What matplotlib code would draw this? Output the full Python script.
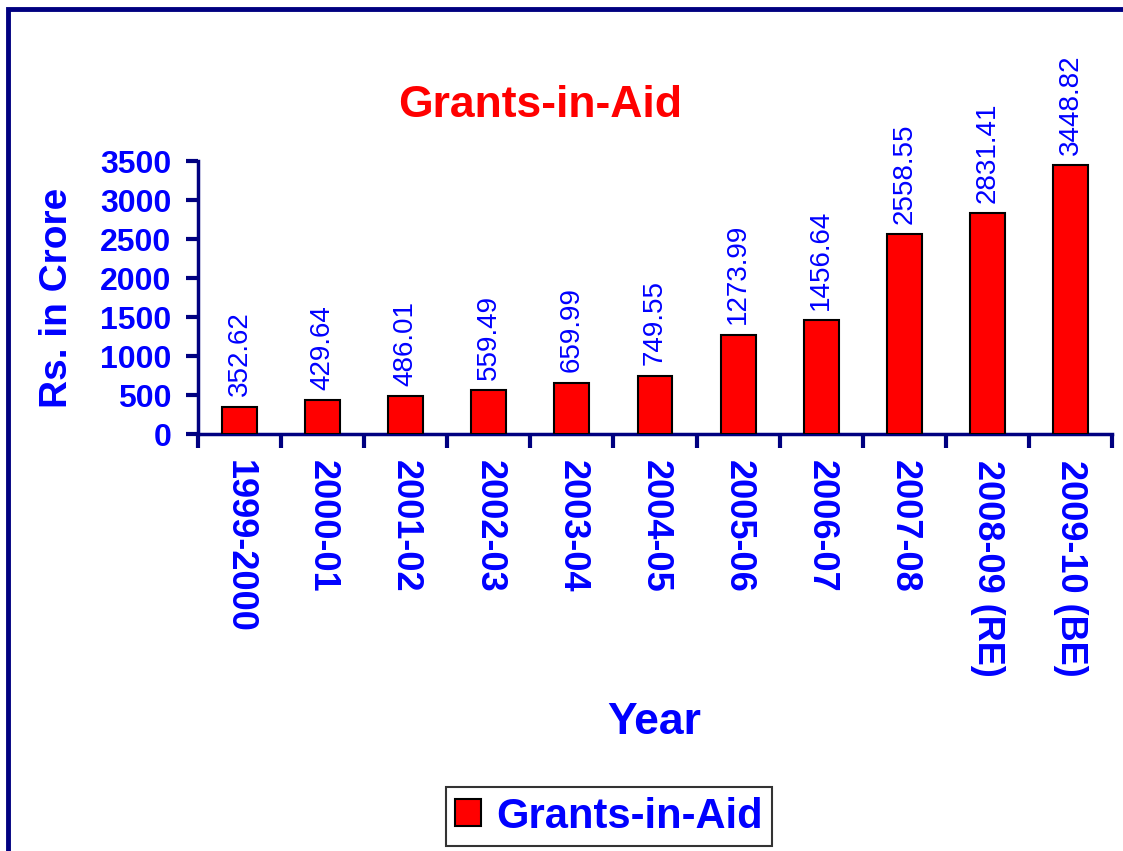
from matplotlib import pyplot as plt
from matplotlib.patches import Rectangle
import numpy as np

years = ['1999-2000', '2000-01', '2001-02', '2002-03', '2003-04', '2004-05',
         '2005-06', '2006-07', '2007-08', '2008-09 (RE)', '2009-10 (BE)']
grants = [352.62, 429.64, 486.01, 559.49, 659.99, 749.55,
          1273.99, 1456.64, 2558.55, 2831.41, 3448.82]
y_ticks = [0, 500, 1000, 1500, 2000, 2500, 3000, 3500]

if __name__ == '__main__':
    plt.rcParams['font.family'] = ['Liberation Sans', 'DejaVu Sans']
    navy = '#000080'
    blue = '#0000ff'

    figure = plt.figure(figsize=(11.23, 8.51), dpi=100)
    axes = figure.add_axes([0.1763, 0.490, 0.814, 0.3208])

    x = np.arange(len(years))
    bars = axes.bar(x, grants, width=0.42, color='red', edgecolor='black',
                    linewidth=1.5, zorder=3)
    for rect, value in zip(bars, grants):
        axes.annotate(f'{value:.2f}', (rect.get_x() + rect.get_width() / 2, rect.get_height()),
                      xytext=(0, 7.5), textcoords='offset points', rotation=90,
                      ha='center', va='bottom', fontsize=20, color=blue,
                      annotation_clip=False)

    axes.set_xlim(-0.5, len(years) - 0.5)
    axes.set_ylim(0, 3500)
    axes.set_yticks(y_ticks)
    axes.set_yticklabels([str(t) for t in y_ticks], fontsize=23, fontweight='bold', color=blue)

    # ticks between categories, labels at centers
    axes.set_xticks(np.arange(len(years) + 1) - 0.5)
    axes.set_xticklabels([])
    axes.set_xticks(x, minor=True)
    axes.set_xticklabels(years, minor=True, rotation=-90, fontsize=26,
                         fontweight='bold', color=blue, va='top', ha='center')
    axes.tick_params(axis='x', which='major', direction='out', length=10, width=3, color=navy)
    axes.tick_params(axis='x', which='minor', length=0, pad=19)
    axes.tick_params(axis='y', direction='out', length=9, width=3, color=navy, pad=10)

    for side in ['top', 'right']:
        axes.spines[side].set_visible(False)
    for side in ['left', 'bottom']:
        axes.spines[side].set_color(navy)
        axes.spines[side].set_linewidth(2.5)

    figure.text(0.481, 0.876, 'Grants-in-Aid', color='red', fontsize=32,
                fontweight='bold', ha='center', va='center')
    figure.text(0.051, 0.65, 'Rs. in Crore', color=blue, fontsize=28,
                fontweight='bold', rotation=90, ha='center', va='center')
    figure.text(0.583, 0.151, 'Year', color=blue, fontsize=32,
                fontweight='bold', ha='center', va='center')

    handle = Rectangle((0, 0), 1, 1, facecolor='red', edgecolor='black', linewidth=1.5)
    legend = figure.legend([handle], ['Grants-in-Aid'], loc='center',
                           bbox_to_anchor=(0.5423, 0.0405), fancybox=False,
                           framealpha=1, edgecolor='#333333', handlelength=0.62,
                           handleheight=0.62, handletextpad=0.35, borderpad=0.22,
                           borderaxespad=0,
                           prop={'size': 30, 'weight': 'bold'})
    for text in legend.get_texts():
        text.set_color(blue)
    legend.get_frame().set_linewidth(1.5)

    # outer navy frame (cut off at right and bottom)
    figure.patches.append(Rectangle((0.0075, -0.2), 1.2, 1.19, transform=figure.transFigure,
                                    fill=False, edgecolor=navy, linewidth=3.5, clip_on=False))

    figure.savefig('out.png', dpi=100)
